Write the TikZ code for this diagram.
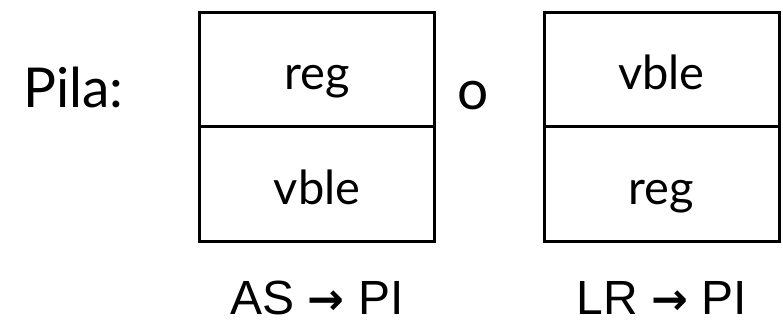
\documentclass[tikz,border=0pt]{standalone}
\usepackage{fontspec}
\setmainfont{Lato}
\newfontfamily\labelfont{Liberation Sans}
\newfontfamily\arrowfont{DejaVu Sans}
\usetikzlibrary{positioning}
\newcommand{\goesto}{{\arrowfont\bfseries\fontsize{44}{50}\selectfont →}}
\tikzset{%
  cell/.style  = {shape=rectangle, draw, line width=3pt, outer sep=0pt,%
                  minimum width=235pt, minimum height=114.5pt, inner sep=0pt,%
                  text height=46pt, text depth=6pt, font=\fontsize{47}{50}\selectfont},%
  title/.style = {inner sep=0pt, font=\fontsize{55}{60}\selectfont},%
  order/.style = {inner sep=0pt, text depth=0pt, font=\labelfont\fontsize{48}{52}\selectfont}%
}

\begin{document}
\begin{tikzpicture}[x=1pt,y=-1pt]
	\useasboundingbox (0,0) rectangle (783,323);
	% stack, first layout
	\node [cell] (a1) at (317,69.5) {reg};
	\node [cell, below=0pt of a1] (a2) {vble};
	% stack, second layout
	\node [cell] (b1) at (661.5,69.5) {vble};
	\node [cell, below=0pt of b1] (b2) {reg};
	\node [title, anchor=base west] (pila) at (23,108) {Pila:};
	\node [title, anchor=base] (or) at (473,110) {o};
	\node [order, anchor=base] (ordA) at (317,314) {AS \goesto{} PI};
	\node [order, anchor=base] (ordB) at (661.5,314) {LR \goesto{} PI};
\end{tikzpicture}
\end{document}
